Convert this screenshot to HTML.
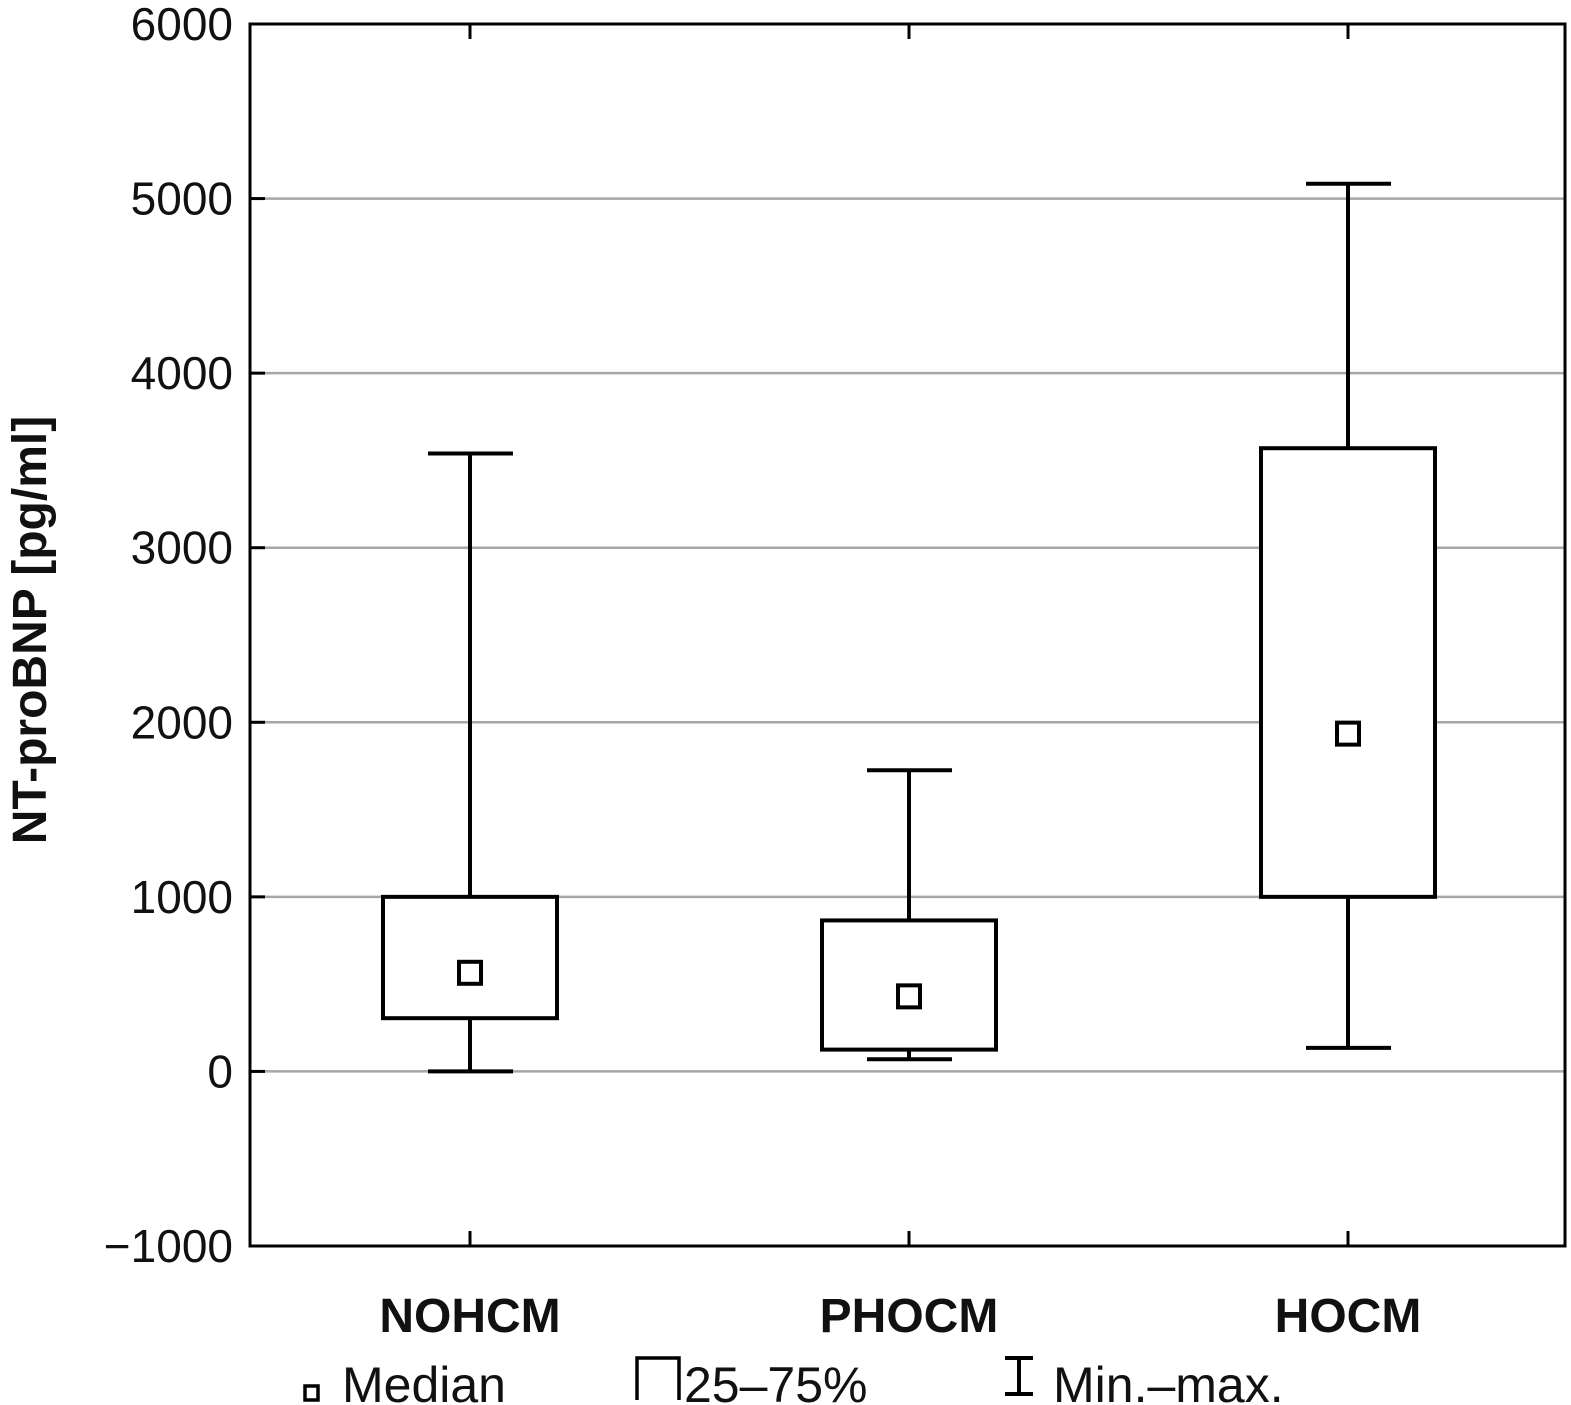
<!DOCTYPE html>
<html><head><meta charset="utf-8"><style>
html,body{margin:0;padding:0;background:#fff;}
svg{display:block;font-family:"Liberation Sans",sans-serif;}
</style></head><body>
<svg id="chart" width="1571" height="1405" viewBox="0 0 1571 1405" xmlns="http://www.w3.org/2000/svg"></svg>
<script>
const categories=["NOHCM","PHOCM","HOCM"];
const mins=[0,70,135];
const q1s=[305,125,1000];
const medians=[565,430,1935];
const q3s=[1000,865,3570];
const maxs=[3540,1725,5085];
const yTicks=[-1000,0,1000,2000,3000,4000,5000,6000];
const yTickLabels=["\u22121000","0","1000","2000","3000","4000","5000","6000"];

const NS="http://www.w3.org/2000/svg";
const svg=document.getElementById('chart');
const L=250,R=1565,T=24,B=1246,yMin=-1000,yMax=6000;
function y(v){return B-(v-yMin)/(yMax-yMin)*(B-T);}
function x(i){return 470+i*439;}
function mk(tag,attrs,parent){const e=document.createElementNS(NS,tag);for(const k in attrs)e.setAttribute(k,attrs[k]);(parent||svg).appendChild(e);return e;}

yTicks.forEach((v,i)=>{
  if(v>yMin&&v<yMax){
    const g=mk('line',{x1:L,x2:R,y1:y(v),y2:y(v),stroke:'#a6a6a6','stroke-width':2.5});
    
    
  }
  const tk=mk('line',{x1:L,x2:L+15,y1:y(v),y2:y(v),stroke:'#000','stroke-width':3});
  
  
  const t=mk('text',{x:233,y:y(v)+16,'text-anchor':'end','font-size':46,fill:'#111'});
  t.textContent=yTickLabels[i];
  
  
});

categories.forEach((c,i)=>{
  const cx=x(i);
  const g=mk('g',{});
  
  
  mk('line',{x1:cx,x2:cx,y1:T,y2:T+15,stroke:'#000','stroke-width':3},g);
  mk('line',{x1:cx,x2:cx,y1:B,y2:B-15,stroke:'#000','stroke-width':3},g);
  mk('line',{x1:cx,x2:cx,y1:y(maxs[i]),y2:y(q3s[i]),stroke:'#000','stroke-width':4},g);
  mk('line',{x1:cx,x2:cx,y1:y(q1s[i]),y2:y(mins[i]),stroke:'#000','stroke-width':4},g);
  mk('line',{x1:cx-42,x2:cx+43,y1:y(maxs[i]),y2:y(maxs[i]),stroke:'#000','stroke-width':4},g);
  mk('line',{x1:cx-42,x2:cx+43,y1:y(mins[i]),y2:y(mins[i]),stroke:'#000','stroke-width':4},g);
  mk('rect',{x:cx-87,y:y(q3s[i]),width:174,height:y(q1s[i])-y(q3s[i]),fill:'#fff',stroke:'#000','stroke-width':4},g);
  mk('rect',{x:cx-11,y:y(medians[i])-11,width:22,height:22,fill:'#fff',stroke:'#000','stroke-width':4},g);
  const t=mk('text',{x:cx,y:1332,'text-anchor':'middle','font-size':48,'font-weight':'bold',fill:'#111'});
  t.textContent=c;
  
  
});

const frame=mk('rect',{x:L,y:T,width:R-L,height:B-T,fill:'none',stroke:'#000','stroke-width':3});



const yt=mk('text',{x:0,y:0,transform:'translate(46,630) rotate(-90)','text-anchor':'middle','font-size':48,'font-weight':'bold',fill:'#111'});
yt.textContent='NT-proBNP [pg/ml]';



const lg=mk('g',{});


mk('rect',{x:305,y:1386,width:13,height:14,fill:'#fff',stroke:'#000','stroke-width':3.5},lg);
mk('path',{d:'M637 1400 V1358 H679 V1400',fill:'none',stroke:'#000','stroke-width':3.5},lg);
mk('path',{d:'M1005 1358 H1033 M1019 1358 V1394 M1005 1394 H1033',fill:'none',stroke:'#000','stroke-width':4},lg);
[["Median",342],["25\u201375%",684],["Min.\u2013max.",1053]].forEach(([s,px])=>{
  const t=mk('text',{x:px,y:1402,'font-size':50,fill:'#111'},lg);
  t.textContent=s;
  
  
});
</script>
</body></html>
